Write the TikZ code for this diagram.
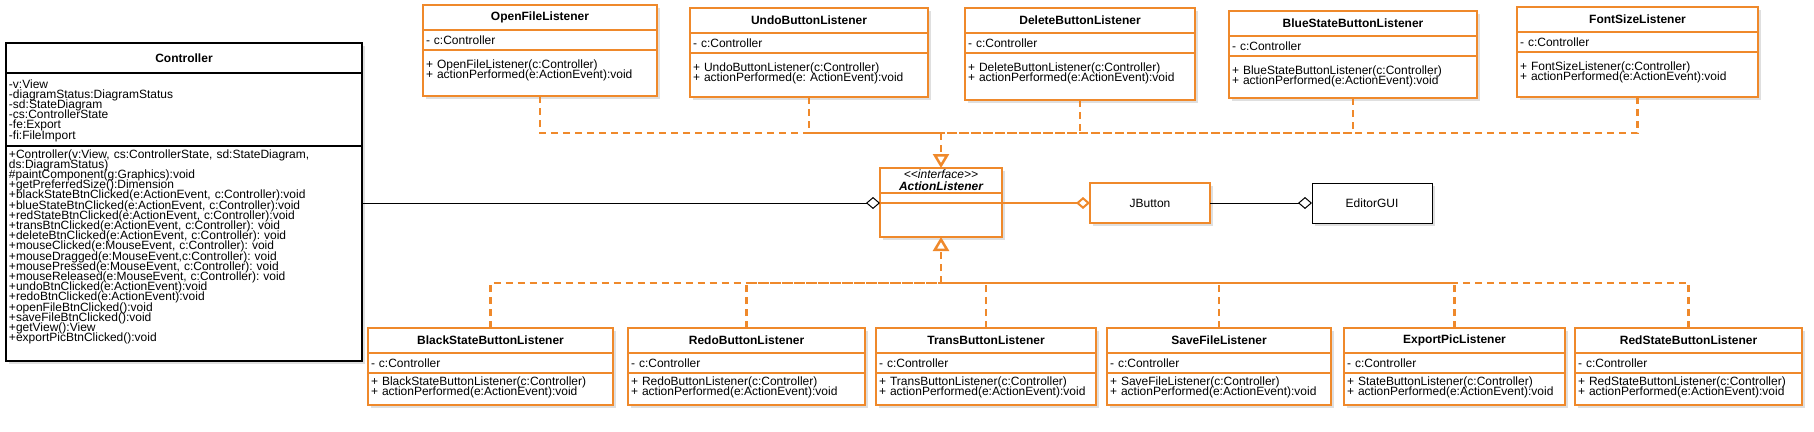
\documentclass[tikz,border=0pt]{standalone}
\usepackage{fontspec}
\setmainfont{Liberation Sans}
\usepackage{tikz}
\usetikzlibrary{arrows.meta, positioning, shadows}

\definecolor{lorange}{RGB}{239,137,43}
\frenchspacing

% text rows of a class box: height, space above, lines
\newcommand{\row}[3]{\parbox[c][#1][t]{\linewidth}{\lineskiplimit=-\maxdimen\raggedright\vspace*{#2}#3\par}}
% a listener box: name, text width, position, title, method rows
\newcommand{\listener}[5]{%
  \node[ltitle, text width=#2] (#1) at (#3) {#4};
  \node[lrow, text width=#2, minimum height=20pt, below=0pt of #1] (#1_a) {- c:Controller};
  \node[lrow, text width=#2, below=0pt of #1_a] (#1_m) {#5};}

\begin{document}
\begin{tikzpicture}[x=1pt,y=-1pt,
    umlpart/.style={draw, fill=white, inner xsep=3pt, inner ysep=0pt, outer sep=0pt,
      font=\fontsize{12}{10.2}\selectfont,
      drop shadow={shadow xshift=3pt, shadow yshift=-3pt, opacity=0.25}},
    ltitle/.style={umlpart, draw=lorange, line width=2.5pt, anchor=north west,
      minimum height=25pt, align=center, font=\fontsize{12}{12}\selectfont\bfseries},
    lrow/.style={umlpart, draw=lorange, line width=2.5pt, align=left},
    crow/.style={umlpart, line width=1.1pt, text width=350pt, align=left},
    realize/.style={draw=lorange, line width=2.5pt, dash pattern=on 7pt off 5pt},
    aggr/.style={-{Diamond[length=14pt,width=12pt,fill=white]}}]
		\tikzstyle{plainbox}=[umlpart, anchor=north west, inner sep=0pt,
		  minimum width=120pt, minimum height=40pt, font=\fontsize{12}{12}\selectfont]
		
		\useasboundingbox (0,0) rectangle (1814,431);
		
		\node[crow, anchor=north west, minimum height=30pt, align=center, font=\fontsize{12}{12}\selectfont\bfseries] (ctrl) at (6,43) {Controller};
		\node[crow, below=0pt of ctrl] (ctrl_a) {\row{73pt}{6.5pt}{-v:View\\-diagramStatus:DiagramStatus\\-sd:StateDiagram\\-cs:ControllerState\\-fe:Export\\-fi:FileImport}};
		\node[crow, below=0pt of ctrl_a] (ctrl_m) {\row{215pt}{3.5pt}{+Controller(v:View, cs:ControllerState, sd:StateDiagram,\\ds:DiagramStatus)\\\#paintComponent(g:Graphics):void\\+getPreferredSize():Dimension\\+blackStateBtnClicked(e:ActionEvent, c:Controller):void\\+blueStateBtnClicked(e:ActionEvent, c:Controller):void\\+redStateBtnClicked(e:ActionEvent, c:Controller):void\\+transBtnClicked(e:ActionEvent, c:Controller): void\\+deleteBtnClicked(e:ActionEvent, c:Controller): void\\+mouseClicked(e:MouseEvent, c:Controller): void\\+mouseDragged(e:MouseEvent,c:Controller): void\\+mousePressed(e:MouseEvent, c:Controller): void\\+mouseReleased(e:MouseEvent, c:Controller): void\\+undoBtnClicked(e:ActionEvent):void\\+redoBtnClicked(e:ActionEvent):void\\+openFileBtnClicked():void\\+saveFileBtnClicked():void\\+getView():View\\+exportPicBtnClicked():void}};
		
		% listeners above
		\listener{open}{228pt}{423,5}{OpenFileListener}{\row{46pt}{9.5pt}{+ OpenFileListener(c:Controller)\\+ actionPerformed(e:ActionEvent):void}}
		\listener{undo}{232pt}{690,8}{UndoButtonListener}{\row{44pt}{9.5pt}{+ UndoButtonListener(c:Controller)\\+ actionPerformed(e: ActionEvent):void}}
		\listener{delete}{224pt}{965,8}{DeleteButtonListener}{\row{47pt}{9.5pt}{+ DeleteButtonListener(c:Controller)\\+ actionPerformed(e:ActionEvent):void}}
		\listener{blue}{242pt}{1229,11}{BlueStateButtonListener}{\row{42pt}{9.5pt}{+ BlueStateButtonListener(c:Controller)\\+ actionPerformed(e:ActionEvent):void}}
		\listener{font}{235pt}{1517,7}{FontSizeListener}{\row{45pt}{9.5pt}{+ FontSizeListener(c:Controller)\\+ actionPerformed(e:ActionEvent):void}}
		
		% the interface and the buttons
		\node[ltitle, text width=116pt, font=\fontsize{12}{12}\selectfont\itshape] (al) at (880,168) {<{}<interface>{}>\\\bfseries ActionListener};
		\node[lrow, text width=116pt, minimum height=10pt, below=0pt of al] (al_a) {};
		\node[lrow, text width=116pt, minimum height=34pt, below=0pt of al_a] (al_m) {};
		\node[plainbox, draw=lorange, line width=2.5pt] (jbtn) at (1090,183) {JButton};
		\node[plainbox, line width=1pt] (gui) at (1312,183) {EditorGUI};
		
		% listeners below
		\listener{black}{239pt}{368,328}{BlackStateButtonListener}{\row{32pt}{4pt}{+ BlackStateButtonListener(c:Controller)\\+ actionPerformed(e:ActionEvent):void}}
		\listener{redo}{231pt}{628,328}{RedoButtonListener}{\row{32pt}{4pt}{+ RedoButtonListener(c:Controller)\\+ actionPerformed(e:ActionEvent):void}}
		\listener{trans}{214pt}{876,328}{TransButtonListener}{\row{32pt}{4pt}{+ TransButtonListener(c:Controller)\\+ actionPerformed(e:ActionEvent):void}}
		\listener{save}{218pt}{1107,328}{SaveFileListener}{\row{32pt}{4pt}{+ SaveFileListener(c:Controller)\\+ actionPerformed(e:ActionEvent):void}}
		\listener{export}{215pt}{1344,328}{ExportPicListener}{\row{32pt}{4pt}{+ StateButtonListener(c:Controller)\\+ actionPerformed(e:ActionEvent):void}}
		\listener{red}{221pt}{1575,328}{RedStateButtonListener}{\row{32pt}{4pt}{+ RedStateButtonListener(c:Controller)\\+ actionPerformed(e:ActionEvent):void}}
		
		\coordinate (topbus) at (al.north |- 0,133);
		\coordinate (botbus) at (al_m.south |- 0,283);
		
		\foreach \n in {open,undo,delete,blue,font}
		  \draw[realize] (\n_m.south) |- (topbus);
		\foreach \n in {black,redo,trans,save,export,red}
		  \draw[realize] (\n.north) |- (botbus);
		\draw[realize, -{Triangle[length=14pt,width=16pt,fill=white]}] (topbus) -- (al.north);
		\draw[realize, -{Triangle[length=14pt,width=16pt,fill=white]}] (botbus) -- (al_m.south);
		
		\path[aggr]
		(ctrl_m.east |- al_a.south west) edge [line width=1pt] (al_a.south west)
		(al_a.south east) edge [draw=lorange, line width=2pt] (jbtn.west)
		(jbtn.east) edge [line width=1pt] (gui.west);

\end{tikzpicture}
\end{document}
